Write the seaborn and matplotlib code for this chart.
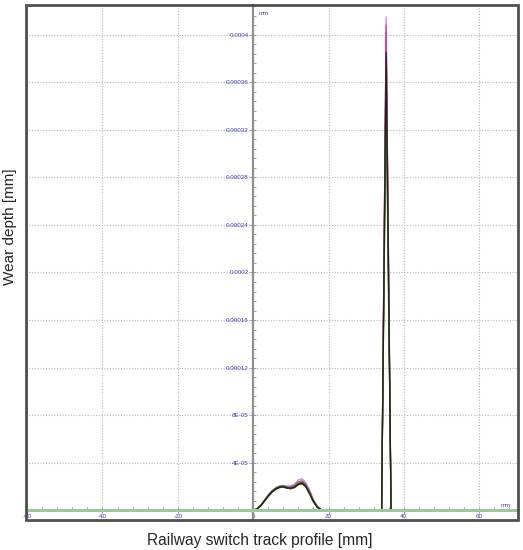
import numpy as np
import matplotlib
matplotlib.use('Agg')
import matplotlib.pyplot as plt
import seaborn as sns
import pandas as pd
from matplotlib.patches import Rectangle
from matplotlib.ticker import MultipleLocator

# profile positions [mm] (hump 0..19, spike ~34-36.6)
profile_x = [-60, 0, 1, 2, 3, 4, 5, 6, 7, 8, 9, 10, 11, 12, 13, 14, 15, 16, 17, 18, 19,
             34.1, 35.3, 36.6, 70]

# wear depth of each measurement, in 1e-5 mm
wear_1 = [0, 0, .11, .39, .81, 1.23, 1.57, 1.83, 1.98, 2.01, 1.91, 1.89, 2.0, 2.26, 2.35, 2.05, 1.46, .79, .3, .04, 0, 0, 39.5, 0, 0]
wear_2 = [0, 0, .1, .4, .85, 1.3, 1.65, 1.9, 2.05, 2.1, 2.05, 2.05, 2.2, 2.55, 2.65, 2.3, 1.7, .9, .35, .06, 0, 0, 41.5, 0, 0]
wear_3 = [0, 0, .1, .37, .78, 1.18, 1.53, 1.78, 1.93, 1.97, 1.87, 1.84, 1.93, 2.18, 2.26, 1.98, 1.38, .72, .27, .03, 0, 0, 36.0, 0, 0]
wear_4 = [0, 0, .11, .39, .8, 1.22, 1.58, 1.82, 1.97, 2.0, 1.9, 1.88, 2.0, 2.25, 2.34, 2.04, 1.45, .78, .29, .04, 0, 0, 39.0, 0, 0]
wear_5 = [0, 0, .1, .35, .75, 1.15, 1.5, 1.75, 1.9, 1.95, 1.85, 1.8, 1.9, 2.15, 2.2, 1.95, 1.35, .7, .25, .03, 0, 0, 40.2, 0, 0]
wear_6 = [0, 0, .12, .42, .84, 1.27, 1.62, 1.87, 2.02, 2.05, 1.97, 1.96, 2.1, 2.4, 2.48, 2.17, 1.58, .85, .33, .05, 0, 0, 40.8, 0, 0]
wear_7 = [0, 0, .12, .4, .82, 1.25, 1.6, 1.85, 2.0, 2.02, 1.92, 1.9, 2.02, 2.28, 2.38, 2.08, 1.48, .8, .3, .05, 0, 0, 37.0, 0, 0]
wear_8 = [0, 0, .1, .36, .77, 1.17, 1.52, 1.77, 1.92, 1.96, 1.86, 1.83, 1.92, 2.17, 2.24, 1.97, 1.37, .71, .26, .03, 0, 0, 35.0, 0, 0]
wear_9 = [0, 0, .1, .38, .8, 1.2, 1.55, 1.8, 1.95, 1.98, 1.88, 1.85, 1.95, 2.2, 2.3, 2.0, 1.4, .75, .28, .04, 0, 0, 38.5, 0, 0]

series = [wear_1, wear_2, wear_3, wear_4, wear_5, wear_6, wear_7, wear_8, wear_9]
colors = ['#90c890', '#c08ad0', '#d8d820', '#20c8c8', '#e03040', '#d040a0', '#10a010', '#506030', '#202020']

x_ticks = [-60, -40, -20, 0, 20, 40, 60]
y_ticks = [4e-5, 8e-5, 1.2e-4, 1.6e-4, 2e-4, 2.4e-4, 2.8e-4, 3.2e-4, 3.6e-4, 4e-4]
y_labels = ['4E-05', '8E-05', '0.00012', '0.00016', '0.0002', '0.00024',
            '0.00028', '0.00032', '0.00036', '0.0004']

sns.set_style('white')
plt.rcParams['font.family'] = ['Liberation Sans', 'DejaVu Sans']

fig = plt.figure(figsize=(5.23, 5.5), dpi=100)
ax = fig.add_axes([26 / 523, 30 / 550, 492 / 523, 515 / 550])

for i, w in enumerate(series):
    df = pd.DataFrame({'x': profile_x, 'y': np.array(w) * 1e-5})
    sns.lineplot(data=df, x='x', y='y', color=colors[i], lw=0.9, ax=ax,
                 sort=False, estimator=None)

ax.axhline(0, color='#9cc89c', lw=2.2, zorder=5)

ax.set_xlim(-60.3, 70.3)
ax.set_ylim(-0.82e-5, 4.25e-4)

ax.spines['left'].set_position(('data', 0))
ax.spines['bottom'].set_position(('data', 0))
ax.spines['left'].set_color('#909090')
ax.spines['left'].set_linewidth(1.6)
ax.spines['bottom'].set_color('#9cc89c')
ax.spines['top'].set_visible(False)
ax.spines['right'].set_visible(False)
ax.add_patch(Rectangle((0, 0), 1, 1, transform=ax.transAxes, fill=False,
                       ec='#505050', lw=2, clip_on=False, zorder=10))

ax.set_xticks(x_ticks)
ax.set_xticklabels([str(t) for t in x_ticks])
ax.set_yticks(y_ticks)
ax.set_yticklabels(y_labels)
ax.xaxis.set_minor_locator(MultipleLocator(4))
ax.yaxis.set_minor_locator(MultipleLocator(8e-6))
ax.tick_params(axis='both', which='major', direction='inout', length=4, width=0.6,
               color='#909090', labelsize=4.5, labelcolor='#4040c0', pad=1)
ax.tick_params(axis='both', which='minor', direction='in', length=2, width=0.6,
               color='#909090')
ax.tick_params(axis='x', which='both', bottom=True)
ax.tick_params(axis='y', which='both', left=True)

ax.grid(True, which='major', color='#b8b8b8', linestyle=(0, (1, 1.5)), lw=0.8)
ax.set_axisbelow(True)
ax.set_xlabel('')
ax.set_ylabel('')

ax.text(1.5, 4.17e-4, 'mm', fontsize=4.5, color='#4040c0')
ax.text(68.5, 0.15e-5, 'mm', fontsize=4.5, color='#4040c0', ha='right', va='bottom')

fig.text(260 / 523, 1 - 540 / 550, 'Railway switch track profile [mm]',
         ha='center', va='center', fontsize=11.2)
fig.text(10 / 523, 1 - 227 / 550, 'Wear depth [mm]', rotation=90,
         ha='center', va='center', fontsize=11)

fig.savefig('out.png', dpi=100)
plt.close()
